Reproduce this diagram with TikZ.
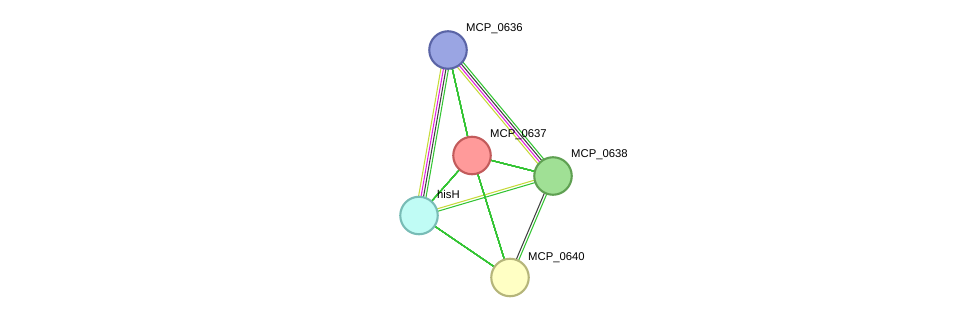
\documentclass[tikz,border=0pt]{standalone}
\usepackage{fontspec}
\setmainfont{Liberation Sans}
\usepackage{xcolor}
\definecolor{nbgreen}{HTML}{33C433}
\definecolor{tmyellow}{HTML}{C6D93A}
\definecolor{exmagenta}{HTML}{E020E0}
\definecolor{codark}{HTML}{404040}
\definecolor{pblue}{HTML}{9AA5E3}
\definecolor{pred}{HTML}{FF9A9A}
\definecolor{pgreen}{HTML}{A0E095}
\definecolor{pcyan}{HTML}{C0FCF5}
\definecolor{pyellow}{HTML}{FFFFC4}
\definecolor{bblue}{HTML}{5A64A6}
\definecolor{bred}{HTML}{C25B5B}
\definecolor{bgreen}{HTML}{5FA052}
\definecolor{bcyan}{HTML}{78BCB6}
\definecolor{byellow}{HTML}{B5B57A}
\usepackage{tikz}
\usetikzlibrary{calc,backgrounds}
\tikzset{
  every picture/.style={line cap=round, line join=round},
  prot/.style={circle, minimum size=37.5pt, inner sep=0pt, line width=2.1pt},
  lbl/.style={font=\fontsize{11.3}{13}\selectfont, text=black, anchor=base west, inner sep=0pt},
  link/.style={line width=1.05pt},
}
% one line of a band, shifted sideways by #3
\newcommand{\bandline}[4]{\draw[link, #4] ($(#1.center)!#3!90:(#2.center)$) -- ($(#2.center)!#3!-90:(#1.center)$);}

\begin{document}
\begin{tikzpicture}[x=1pt, y=-1pt]
\useasboundingbox (0,0) rectangle (976,323);
% the proteins
\node[prot, fill=pblue, draw=bblue] (p636) at (448,50) {};
\node[prot, fill=pred, draw=bred] (p637) at (472,155.5) {};
\node[prot, fill=pgreen, draw=bgreen] (p638) at (553,176) {};
\node[prot, fill=pcyan, draw=bcyan] (hisH) at (419,215.5) {};
\node[prot, fill=pyellow, draw=byellow] (p640) at (510,277.5) {};
% the links, behind the proteins
\begin{scope}[on background layer]
\foreach \a/\b/\d/\c in {p636/hisH/-3.75pt/tmyellow, p636/hisH/-1.25pt/exmagenta,
  p636/hisH/1.25pt/codark, p636/hisH/3.75pt/nbgreen,
  p636/p638/-3.75pt/tmyellow, p636/p638/-1.25pt/exmagenta,
  p636/p638/1.25pt/codark, p636/p638/3.75pt/nbgreen,
  hisH/p638/1.25pt/tmyellow, hisH/p638/-1.25pt/nbgreen,
  p638/p640/-1.25pt/codark, p638/p640/1.25pt/nbgreen}
  \bandline{\a}{\b}{\d}{\c}
\foreach \a/\b in {p636/p637, p637/p638, p637/hisH, p637/p640, hisH/p640}
  \draw[link, nbgreen] (\a.center) -- (\b.center);
\end{scope}
% names
\node[lbl] at (466,32) {MCP\_0636};
\node[lbl] at (490,137.5) {MCP\_0637};
\node[lbl] at (571,157.5) {MCP\_0638};
\node[lbl] at (437,198) {hisH};
\node[lbl] at (528,260) {MCP\_0640};
\end{tikzpicture}
\end{document}
